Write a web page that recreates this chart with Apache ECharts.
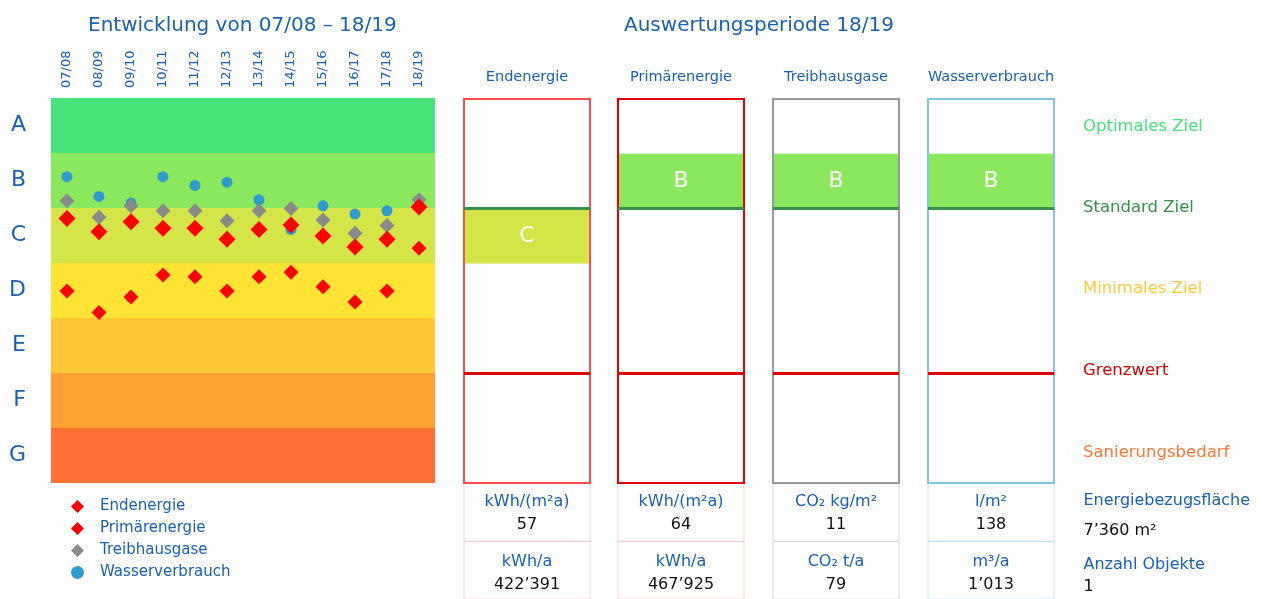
<!DOCTYPE html>
<html>
<head>
<meta charset="utf-8">
<script src="https://cdn.jsdelivr.net/npm/echarts@6/dist/echarts.min.js"></script>
<style>
    html, body { margin: 0; padding: 0; background: #fff; }
    #chart { width: 1262px; height: 599px; }
</style>
</head>
<body>
<div id="chart"></div>
<script>
// Perioden und Klassen
var perioden = ['07/08', '08/09', '09/10', '10/11', '11/12', '12/13', '13/14', '14/15', '15/16', '16/17', '17/18', '18/19'];
var klassen = ['A', 'B', 'C', 'D', 'E', 'F', 'G'];
var klassenFarben = ['#45e37a', '#8be85c', '#d4e647', '#ffe433', '#ffc733', '#ffa033', '#ff7033'];

// Klassenwerte (0 = oberer Rand A, 7 = unterer Rand G)
var endenergie = [3.51, 3.90, 3.62, 3.22, 3.25, 3.51, 3.25, 3.17, 3.43, 3.71, 3.51, 2.73];
var primaerenergie = [2.19, 2.43, 2.25, 2.37, 2.37, 2.57, 2.39, 2.31, 2.51, 2.71, 2.57, 1.98];
var treibhausgase = [1.87, 2.17, 1.96, 2.05, 2.05, 2.23, 2.05, 2.01, 2.22, 2.46, 2.32, 1.85];
var wasserverbrauch = [1.43, 1.79, 1.91, 1.43, 1.59, 1.53, 1.85, 2.39, 1.96, 2.11, 2.05, 1.86];

// Auswertungsperiode 18/19
var kategorien = ['Endenergie', 'Primärenergie', 'Treibhausgase', 'Wasserverbrauch'];
var bewertung = ['C', 'B', 'B', 'B'];
var einheit1 = ['kWh/(m²a)', 'kWh/(m²a)', 'CO₂ kg/m²', 'l/m²'];
var wert1 = ['57', '64', '11', '138'];
var einheit2 = ['kWh/a', 'kWh/a', 'CO₂ t/a', 'm³/a'];
var wert2 = ['422’391', '467’925', '79', '1’013'];

// Zielwerte rechts
var ziele = ['Optimales Ziel', 'Standard Ziel', 'Minimales Ziel', 'Grenzwert', 'Sanierungsbedarf'];
var zielStufen = [0.5, 1.98, 3.45, 4.95, 6.45];
var zielFarben = ['#45e37a', '#3a8f4a', '#ffcb33', '#d40000', '#ff7733'];
var standardZiel = 2;
var grenzwert = 5;

var infoTitel = ['Energiebezugsfläche', 'Anzahl Objekte'];
var infoWerte = ['7’360 m²', '1'];

// Layout
var blau = '#1a5fb4';
var boxLinks = [464, 618, 773, 928];
var boxBreite = 126;
var rahmenFarben = ['#ff4d4d', '#e60000', '#999999', '#80c4e6'];
var zellFarben = ['#ffd0d0', '#ffcccc', '#d8d8d8', '#c2e1f0'];
var unsichtbar = { color: 'rgba(0,0,0,0)', opacity: 1 };

var chart = echarts.init(document.getElementById('chart'));

var grids = [{ left: 51, top: 98, width: 384, height: 385 }];
var xAxes = [{
    gridIndex: 0, type: 'category', data: perioden, position: 'top',
    axisLine: { show: false }, axisTick: { show: false },
    axisLabel: { rotate: 90, margin: 10, fontSize: 13, color: blau }
}];
var yAxes = [{
    gridIndex: 0, type: 'category', data: klassen, inverse: true,
    axisLine: { show: false }, axisTick: { show: false },
    axisLabel: { fontSize: 22, color: blau, margin: 25 }
}, {
    gridIndex: 0, type: 'value', min: 0, max: 7, inverse: true, show: false
}];

var series = [{
    type: 'scatter', data: [], xAxisIndex: 0, yAxisIndex: 1, z: 1, silent: true,
    markArea: {
        silent: true,
        data: klassen.map(function (k, i) {
            return [{ yAxis: i, itemStyle: { color: klassenFarben[i] } }, { yAxis: i + 1 }];
        })
    }
}, {
    name: 'Wasserverbrauch', type: 'scatter', data: wasserverbrauch, xAxisIndex: 0, yAxisIndex: 1,
    symbol: 'circle', symbolSize: 11, itemStyle: { color: '#2f9bd0', opacity: 1 }, z: 2
}, {
    name: 'Treibhausgase', type: 'scatter', data: treibhausgase, xAxisIndex: 0, yAxisIndex: 1,
    symbol: 'diamond', symbolSize: 15, itemStyle: { color: '#8a8a8a', opacity: 1 }, z: 3
}, {
    name: 'Endenergie', type: 'scatter', data: endenergie, xAxisIndex: 0, yAxisIndex: 1,
    symbol: 'diamond', symbolSize: 15, itemStyle: { color: '#ff0000', opacity: 1 }, z: 4
}, {
    name: 'Primärenergie', type: 'scatter', data: primaerenergie, xAxisIndex: 0, yAxisIndex: 1,
    symbol: 'diamond', symbolSize: 17, itemStyle: { color: '#ff0000', opacity: 1 }, z: 4
}];

// Boxen der Auswertungsperiode
kategorien.forEach(function (name, i) {
    grids.push({
        left: boxLinks[i], top: 99, width: boxBreite, height: 384, show: true, z: 5,
        borderColor: rahmenFarben[i], borderWidth: 2, backgroundColor: 'transparent'
    });
    xAxes.push({
        gridIndex: i + 1, type: 'category', data: [''], position: 'top',
        name: name, nameLocation: 'middle', nameGap: 14,
        nameTextStyle: { color: blau, fontSize: 14.5 },
        axisLine: { show: false }, axisTick: { show: false }, axisLabel: { show: false }
    });
    var y = { gridIndex: i + 1, type: 'value', min: 0, max: 7, inverse: true, show: false };
    if (i === kategorien.length - 1) {
        y = {
            gridIndex: i + 1, type: 'value', min: 0, max: 7, inverse: true, position: 'right',
            axisLine: { show: false }, axisTick: { show: false }, splitLine: { show: false },
            axisLabel: {
                customValues: zielStufen, margin: 29,
                formatter: function (v) {
                    var k = 0;
                    zielStufen.forEach(function (s, j) { if (Math.abs(s - v) < 1e-6) k = j; });
                    return '{z' + k + '|' + ziele[k] + '}';
                },
                rich: (function () {
                    var r = {};
                    zielFarben.forEach(function (c, j) { r['z' + j] = { color: c, fontSize: 16.5 }; });
                    return r;
                })()
            }
        };
    }
    yAxes.push(y);
    var stufe = klassen.indexOf(bewertung[i]);
    series.push({
        type: 'scatter', data: [], xAxisIndex: i + 1, yAxisIndex: yAxes.length - 1, z: 2, silent: true,
        markArea: {
            silent: true,
            itemStyle: { color: klassenFarben[stufe] },
            label: { show: true, position: 'inside', color: '#fff', fontSize: 22 },
            data: [[{ yAxis: stufe, name: bewertung[i] }, { yAxis: stufe + 1 }]]
        }
    });
    series.push({
        type: 'scatter', data: [], xAxisIndex: i + 1, yAxisIndex: yAxes.length - 1, z: 3, silent: true,
        markLine: {
            silent: true, symbol: ['none', 'none'], label: { show: false },
            data: [
                { yAxis: standardZiel, lineStyle: { color: '#3a8f4a', width: 3, type: 'solid' } },
                { yAxis: grenzwert, lineStyle: { color: '#e00000', width: 3, type: 'solid' } }
            ]
        }
    });
});

// Kennzahlen unter den Boxen
kategorien.forEach(function (name, i) {
    grids.push({
        left: boxLinks[i], top: 483, width: boxBreite, height: 117, show: true, z: 0,
        borderColor: zellFarben[i], borderWidth: 1
    });
    xAxes.push({ gridIndex: grids.length - 1, type: 'value', min: 0, max: 1, show: false });
    yAxes.push({
        gridIndex: grids.length - 1, type: 'value', min: 0, max: 2, interval: 1, inverse: true,
        axisLine: { show: false }, axisTick: { show: false }, axisLabel: { show: false },
        splitLine: { show: true, lineStyle: { color: zellFarben[i] } }
    });
    series.push({
        type: 'scatter', xAxisIndex: xAxes.length - 1, yAxisIndex: yAxes.length - 1,
        symbolSize: 1, itemStyle: unsichtbar, silent: true,
        data: [
            { value: [0.5, 0.5], label: { offset: [0, 1] } },
            { value: [0.5, 1.5], label: { offset: [0, 3] } }
        ],
        label: {
            show: true, position: 'inside', align: 'center',
            formatter: function (p) {
                var e = p.dataIndex === 0 ? einheit1[i] : einheit2[i];
                var w = p.dataIndex === 0 ? wert1[i] : wert2[i];
                return '{e|' + e + '}\n{w|' + w + '}';
            },
            rich: {
                e: { color: blau, fontSize: 16, lineHeight: 23, align: 'center' },
                w: { color: '#111', fontSize: 16, lineHeight: 23, align: 'center' }
            }
        }
    });
});

// Objektangaben
grids.push({ left: 1083, top: 483, width: 175, height: 117 });
xAxes.push({ gridIndex: grids.length - 1, type: 'value', min: 0, max: 1, show: false });
yAxes.push({ gridIndex: grids.length - 1, type: 'value', min: 0, max: 2, inverse: true, show: false });
series.push({
    type: 'scatter', xAxisIndex: xAxes.length - 1, yAxisIndex: yAxes.length - 1,
    symbolSize: 1, itemStyle: unsichtbar, silent: true,
    data: [
        { value: [0, 0.5], label: { offset: [0, 3.5] } },
        { value: [0, 1.5], label: { offset: [0, 6] } }
    ],
    label: {
        show: true, position: 'right', distance: 0, align: 'left',
        formatter: function (p) {
            var s = p.dataIndex === 0 ? 'a' : 'b';
            return '{t' + s + '|' + infoTitel[p.dataIndex] + '}\n{w' + s + '|' + infoWerte[p.dataIndex] + '}';
        },
        rich: {
            ta: { color: blau, fontSize: 16, lineHeight: 30 },
            wa: { color: '#111', fontSize: 16, lineHeight: 30 },
            tb: { color: blau, fontSize: 16, lineHeight: 22 },
            wb: { color: '#111', fontSize: 16, lineHeight: 22 }
        }
    }
});

chart.setOption({
    animation: false,
    textStyle: { fontFamily: 'DejaVu Sans' },
    title: [
        { text: 'Entwicklung von 07/08 – 18/19', left: 88, top: 16, padding: 0,
          textStyle: { color: blau, fontSize: 20, fontWeight: 'normal' } },
        { text: 'Auswertungsperiode 18/19', left: 624, top: 16, padding: 0,
          textStyle: { color: blau, fontSize: 20, fontWeight: 'normal' } }
    ],
    legend: {
        orient: 'vertical', left: 71, top: 499, padding: 0,
        itemWidth: 13, itemHeight: 13, itemGap: 7,
        data: ['Endenergie', 'Primärenergie', 'Treibhausgase', 'Wasserverbrauch'],
        textStyle: { color: blau, fontSize: 15, padding: [0, 0, 0, 11] }
    },
    grid: grids,
    xAxis: xAxes,
    yAxis: yAxes,
    series: series
});
</script>
</body>
</html>
